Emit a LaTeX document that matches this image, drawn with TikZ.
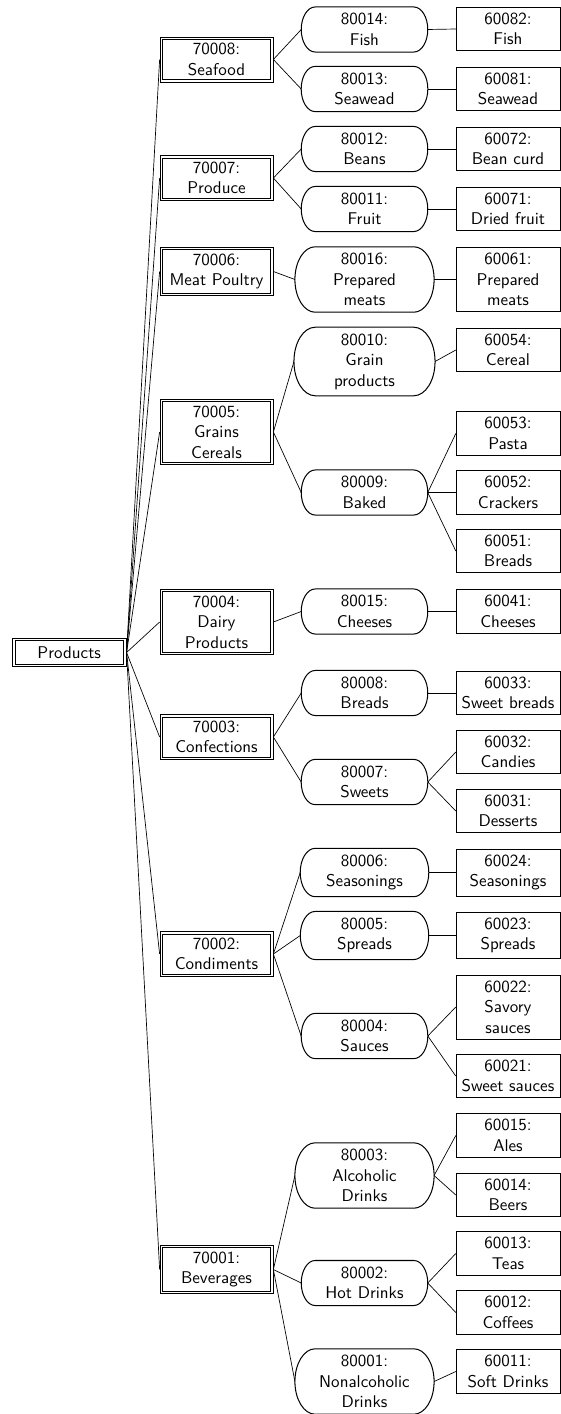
\documentclass[tikz,border=0pt]{standalone}
\usetikzlibrary{calc}
\begin{document}
\begin{tikzpicture}[x=0.5882pt,y=-0.5882pt, font=\sffamily,
  rootbox/.style={draw, line width=0.6pt, minimum width=66.9pt, minimum height=17pt, inner sep=0pt},
  catbox/.style={draw, line width=0.4pt, minimum width=66.5pt, inner ysep=3.8pt, align=center},
  subbox/.style={rectangle, text width=57.6pt, inner xsep=0pt, inner ysep=3.6pt, align=center},
  subline/.style={line width=0.6pt},
  leafbox/.style={draw, line width=0.4pt, minimum width=61pt, align=center},
  link/.style={line width=0.4pt}]
\useasboundingbox (0,0) rectangle (560,1414);

\node[rootbox] (p) at (69.2,652.5) {Products};

% level 1
\node[catbox] (c8) at (216.5,59.5) {70008:\\Seafood};
\node[catbox] (c7) at (216.5,178) {70007:\\Produce};
\node[catbox] (c6) at (216.5,271.5) {70006:\\Meat Poultry};
\node[catbox] (c5) at (216.5,432) {70005:\\Grains\\Cereals};
\node[catbox] (c4) at (216.5,622) {70004:\\Dairy\\Products};
\node[catbox] (c3) at (216.5,737) {70003:\\Confections};
\node[catbox] (c2) at (216.5,954) {70002:\\Condiments};
\node[catbox] (c1) at (216.5,1269.5) {70001:\\Beverages};

% inner frames of the double borders
\draw[line width=0.6pt] ([xshift=2pt,yshift=-2pt]p.north west) rectangle ([xshift=-2pt,yshift=2pt]p.south east);
\foreach \c in {c1,c2,c3,c4,c5,c6,c7,c8}
  \draw[line width=0.4pt] ([xshift=1.65pt,yshift=-1.65pt]\c.north west) rectangle ([xshift=-1.65pt,yshift=1.65pt]\c.south east);

% level 2
\node[subbox] (s14) at (364.5,29.5) {80014:\\Fish};
\node[subbox] (s13) at (364.5,89) {80013:\\Seawead};
\node[subbox] (s12) at (364.5,149) {80012:\\Beans};
\node[subbox] (s11) at (364.5,209) {80011:\\Fruit};
\node[subbox] (s16) at (364.5,279.5) {80016:\\Prepared\\meats};
\node[subbox] (s10) at (364.5,361.5) {80010:\\Grain\\products};
\node[subbox] (s9) at (364.5,492.5) {80009:\\Baked};
\node[subbox] (s15) at (364.5,611.5) {80015:\\Cheeses};
\node[subbox] (s8) at (364.5,693) {80008:\\Breads};
\node[subbox] (s7) at (364.5,782) {80007:\\Sweets};
\node[subbox] (s6) at (364.5,872.5) {80006:\\Seasonings};
\node[subbox] (s5) at (364.5,935.5) {80005:\\Spreads};
\node[subbox] (s4) at (364.5,1036) {80004:\\Sauces};
\node[subbox] (s3) at (364.5,1175.5) {80003:\\Alcoholic\\Drinks};
\node[subbox] (s2) at (364.5,1283) {80002:\\Hot Drinks};
\node[subbox] (s1) at (364.5,1381.5) {80001:\\Nonalcoholic\\Drinks};

% stadium outlines with elliptical ends, and their tip coordinates
\foreach \s in {s1,s2,s3,s4,s5,s6,s7,s8,s9,s10,s11,s12,s13,s14,s15,s16} {
  \draw[subline] let \p1=(\s.north), \p2=(\s.south), \n1={veclen(\x1-\x2,\y1-\y2)/2} in
    (\s.north west) -- (\s.north east)
    arc[start angle=90, end angle=-90, x radius={0.62*\n1}, y radius={\n1}]
    -- (\s.south west)
    arc[start angle=270, end angle=90, x radius={0.62*\n1}, y radius={\n1}]
    -- cycle
    ([xshift={0.62*\n1}]\s.east) coordinate (\s R)
    ([xshift={-0.62*\n1}]\s.west) coordinate (\s L);
}

% level 3
\node[leafbox] (l82) at (508,29) {60082:\\Fish};
\node[leafbox] (l81) at (508,89) {60081:\\Seawead};
\node[leafbox] (l72) at (508,149) {60072:\\Bean curd};
\node[leafbox] (l71) at (508,209) {60071:\\Dried fruit};
\node[leafbox] (l61) at (508,279.5) {60061:\\Prepared\\meats};
\node[leafbox] (l54) at (508,350) {60054:\\Cereal};
\node[leafbox] (l53) at (508,433.5) {60053:\\Pasta};
\node[leafbox] (l52) at (508,492.5) {60052:\\Crackers};
\node[leafbox] (l51) at (508,551) {60051:\\Breads};
\node[leafbox] (l41) at (508,611.5) {60041:\\Cheeses};
\node[leafbox] (l33) at (508,693) {60033:\\Sweet breads};
\node[leafbox] (l32) at (508,752) {60032:\\Candies};
\node[leafbox] (l31) at (508,811) {60031:\\Desserts};
\node[leafbox] (l24) at (508,872.5) {60024:\\Seasonings};
\node[leafbox] (l23) at (508,935.5) {60023:\\Spreads};
\node[leafbox] (l22) at (508,1007) {60022:\\Savory\\sauces};
\node[leafbox] (l21) at (508,1076) {60021:\\Sweet sauces};
\node[leafbox] (l15) at (508,1135.5) {60015:\\Ales};
\node[leafbox] (l14) at (508,1195) {60014:\\Beers};
\node[leafbox] (l13) at (508,1253.5) {60013:\\Teas};
\node[leafbox] (l12) at (508,1312.5) {60012:\\Coffees};
\node[leafbox] (l11) at (508,1371.5) {60011:\\Soft Drinks};

% edges root -> level 1
\foreach \c in {c1,c2,c3,c4,c5,c6,c7,c8}
  \draw[link] (p.east) -- (\c.west);

% level 1 -> level 2
\foreach \a/\b in {c8/s14,c8/s13,c7/s12,c7/s11,c6/s16,c5/s10,c5/s9,c4/s15,c3/s8,c3/s7,c2/s6,c2/s5,c2/s4,c1/s3,c1/s2,c1/s1}
  \draw[link] (\a.east) -- (\b L);

% level 2 -> level 3
\foreach \a/\b in {s14/l82,s13/l81,s12/l72,s11/l71,s16/l61,s10/l54,s9/l53,s9/l52,s9/l51,s15/l41,s8/l33,s7/l32,s7/l31,s6/l24,s5/l23,s4/l22,s4/l21,s3/l15,s3/l14,s2/l13,s2/l12,s1/l11}
  \draw[link] (\a R) -- (\b.west);
\end{tikzpicture}
\end{document}
